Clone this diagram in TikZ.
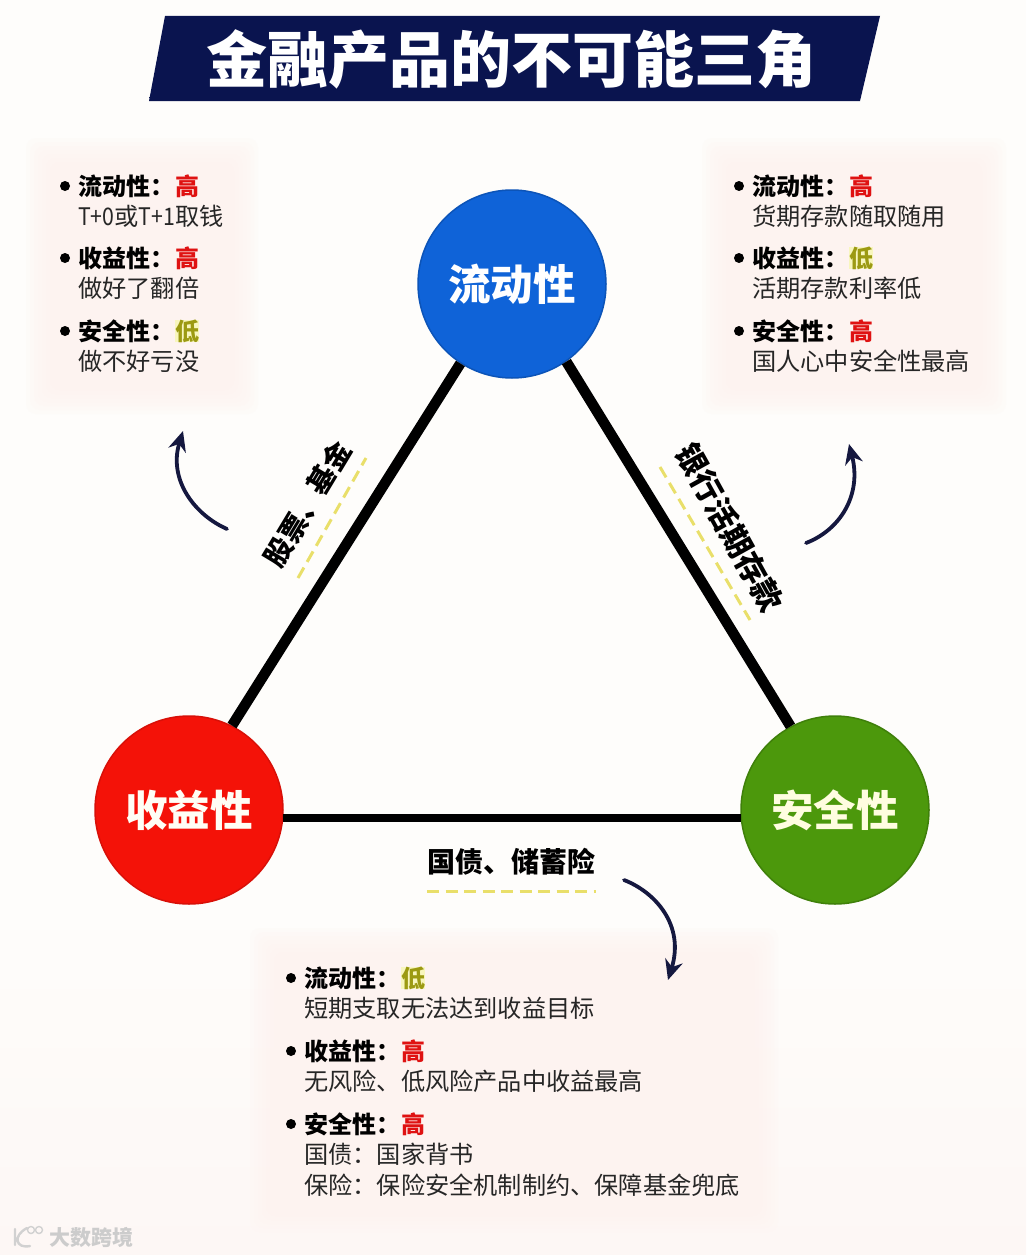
\documentclass[tikz,border=0pt]{standalone}
\usepackage{xcolor}
\usepackage{fontspec}
\usepackage{tikz}
\usetikzlibrary{calc, positioning, arrows.meta}
\newfontfamily\cjk{Noto Sans CJK SC}
\definecolor{pagewhite}{HTML}{FEFDFB}
\definecolor{pagepink}{HTML}{FDF7F5}
\definecolor{panelpink}{HTML}{FDF3F0}
\definecolor{bannerdark}{HTML}{0A144F}
\definecolor{bannermid}{HTML}{13226E}
\definecolor{arrownavy}{HTML}{15183F}
\definecolor{dashyellow}{HTML}{E9DF6A}
\definecolor{highred}{HTML}{DF1212}
\definecolor{lowolive}{HTML}{9C9A12}
\definecolor{lowglow}{HTML}{F8F6BE}
\definecolor{factorblue}{HTML}{0F63D8}
\definecolor{factorblueedge}{HTML}{0C54B8}
\definecolor{factorred}{HTML}{F41208}
\definecolor{factorrededge}{HTML}{D81008}
\definecolor{factorgreen}{HTML}{4C980C}
\definecolor{factorgreenedge}{HTML}{3F800A}
\tikzset{
  factor/.style={circle, minimum size=188pt, inner sep=0pt, line width=1.5pt,
    font=\cjk\bfseries\fontsize{42.5}{46}\selectfont},
  edgeline/.style={black, line width=10.5pt},
  dashline/.style={dashyellow, line width=3pt, dash pattern=on 12pt off 6.5pt},
  curvearrow/.style={arrownavy, line width=3.8pt, line cap=round,
    -{Stealth[length=20pt, width=18pt]}},
  edgetext/.style={inner sep=0pt, text=black,
    font=\cjk\bfseries\fontsize{31}{34}\selectfont},
  headtext/.style={anchor=west, inner sep=0pt, text height=21pt, text depth=3pt, text=black,
    font=\cjk\bfseries\fontsize{24}{28}\selectfont},
  bodytext/.style={anchor=west, inner sep=0pt, text height=21pt, text depth=3pt, text=black!85,
    font=\cjk\fontsize{24.2}{28}\selectfont},
  high/.style={headtext, text=highred},
  low/.style={headtext, text=lowolive, fill=lowglow, text height=20pt, text depth=2pt}
}
% soft edged backing block behind a list
\newcommand{\softpanel}[4]{
  \foreach \g in {0,4,...,28}
    \fill[panelpink, opacity=0.2, rounded corners=10pt]
      (#1+\g,#2+\g) rectangle (#3-\g,#4-\g);
}
\newcommand{\thinlatin}[1]{\scalebox{0.88}[1]{#1}}
\begin{document}
\begin{tikzpicture}[x=1pt, y=-1pt]
  % Page
  \fill[pagewhite] (0,0) rectangle (1026,1255);
  \fill[top color=pagewhite, bottom color=pagepink] (0,900) rectangle (1026,1255);
  \softpanel{26}{138}{258}{414}
  \softpanel{702}{138}{1006}{414}
  \softpanel{250}{928}{778}{1232}

  % Title banner
  \path[left color=bannerdark, middle color=bannermid, right color=bannerdark]
    (165,16) -- (880,16) -- (860,101) -- (149,101) -- cycle;
  \node[inner sep=0pt, text=white, font=\cjk\bfseries\fontsize{61}{66}\selectfont]
    (title) at (511,59) {金融产品的不可能三角};

  % Three corners
  \node[factor, fill=factorblue, draw=factorblueedge, text=white] (liquidity) at (512,284) {流动性};
  \node[factor, fill=factorred, draw=factorrededge, text=white!96!yellow] (returns) at (189,810) {收益性};
  \node[factor, fill=factorgreen, draw=factorgreenedge, text=yellow!12] (safety) at (835,810) {安全性};
  \draw[edgeline] (liquidity.237) -- (returns.63);
  \draw[edgeline] (liquidity.-55) -- (safety.118);
  \draw[edgeline, line width=8pt] (returns.-5) -- (safety.-175);

  % Products along the edges
  \node[edgetext, font=\cjk\bfseries\fontsize{28}{30}\selectfont, rotate=59] (stocks) at (307.5,503.5) {股票、基金};
  \node[edgetext, rotate=-61] (deposit) at (730,527.5) {银行活期存款};
  \node[edgetext, font=\cjk\bfseries\fontsize{28}{30}\selectfont] (bonds) at (511,862) {国债、储蓄险};
  \coordinate (dashLa) at (298,578);
  \coordinate (dashLb) at (366,458);
  \coordinate (dashRa) at (660,467);
  \coordinate (dashRb) at (750,620);
  \coordinate (dashBa) at (427,891);
  \coordinate (dashBb) at (596,891);
  \draw[dashline] (dashLa) -- (dashLb);
  \draw[dashline] (dashRa) -- (dashRb);
  \draw[dashline] (dashBa) -- (dashBb);

  % Curved arrows towards the lists
  \coordinate (arrowLa) at (227,529);
  \coordinate (arrowLb) at (183,431);
  \coordinate (arrowRa) at (806,543);
  \coordinate (arrowRb) at (849,444);
  \coordinate (arrowBa) at (624,880);
  \coordinate (arrowBb) at (668,980);
  \draw[curvearrow] (arrowLa) .. controls (195,515) and (168,480) .. (arrowLb);
  \draw[curvearrow] (arrowRa) .. controls (840,530) and (862,495) .. (arrowRb);
  \draw[curvearrow] (arrowBa) .. controls (655,892) and (685,925) .. (arrowBb);

  % Lists
  \foreach \id/\x/\y/\head/\grade/\tone/\body in {
      a/78/186/流动性：/高/high/\thinlatin{T+0}或\thinlatin{T+1}取钱,
      b/78/258/收益性：/高/high/做好了翻倍,
      c/78/331/安全性：/低/low/做不好亏没,
      d/752/186/流动性：/高/high/货期存款随取随用,
      e/752/258/收益性：/低/low/活期存款利率低,
      f/752/331/安全性：/高/high/国人心中安全性最高,
      g/304/978/流动性：/低/low/短期支取无法达到收益目标,
      h/304/1051/收益性：/高/high/无风险、低风险产品中收益最高,
      i/304/1124/安全性：/高/high/国债：国家背书}
    {
      \fill[black] (\x-13,\y) circle (5pt);
      \node[headtext] (head\id) at (\x,\y) {\head};
      \node[\tone, anchor=west] (grade\id) at (\x+97,\y) {\grade};
      \node[bodytext] (body\id) at (\x,\y+30.5) {\body};
    }
  \node[bodytext] (bodyj) at (304,1185) {保险：保险安全机制制约、保障基金兜底};

  % Watermark
  \draw[black!18, line width=2.4pt, line cap=round]
    (15,1229) -- (15,1245) (27,1228) .. controls (12,1236) and (16,1249) .. (30,1246);
  \draw[black!18, line width=1.4pt] (31,1230) circle (3.5pt) (39,1230) circle (3.5pt);
  \node[inner sep=0pt, text=black!20, font=\cjk\bfseries\fontsize{21}{24}\selectfont]
    (watermark) at (91,1237) {大数跨境};
\end{tikzpicture}
\end{document}
